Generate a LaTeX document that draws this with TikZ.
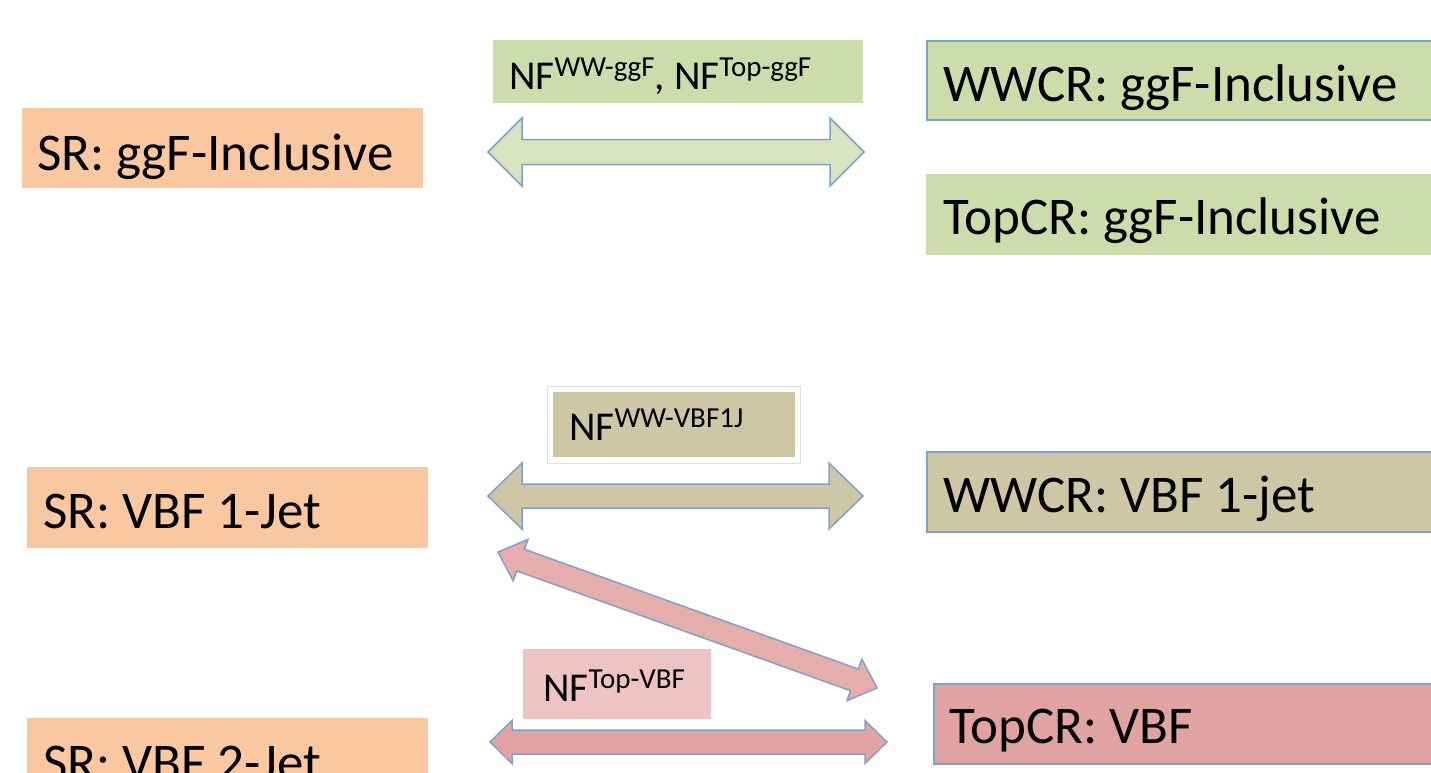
\documentclass[tikz,border=0pt]{standalone}
\usepackage{fontspec}
\setmainfont{Carlito}
\usetikzlibrary{calc}
\definecolor{orng}{HTML}{F9C8A0}
\definecolor{grn}{HTML}{CDDCAB}
\definecolor{grnA}{HTML}{D8E4BD}
\definecolor{tanB}{HTML}{CEC7A6}
\definecolor{pinkT}{HTML}{E0A3A2}
\definecolor{pinkL}{HTML}{EDC3C3}
\definecolor{pinkA}{HTML}{E6ADAB}
\definecolor{bord}{HTML}{7EA1CD}
\newcommand{\nfsup}[1]{\raisebox{12.5pt}{\fontsize{29}{31}\selectfont #1}}
% #1 style, #2 start, #3 end, #4 shaft half width, #5 head half width, #6 head length
\newcommand{\dblarrow}[6]{%
  \path coordinate (da1) at ($(#2)!#6!(#3)$) coordinate (da2) at ($(#3)!#6!(#2)$);
  \draw[#1] (#2) -- ($(da1)!#5!90:(#3)$) -- ($(da1)!#4!90:(#3)$) -- ($(da2)!#4!-90:(#2)$)
    -- ($(da2)!#5!-90:(#2)$) -- (#3) -- ($(da2)!#5!90:(#2)$) -- ($(da2)!#4!90:(#2)$)
    -- ($(da1)!#4!-90:(#3)$) -- ($(da1)!#5!-90:(#3)$) -- cycle;
}
\begin{document}
\begin{tikzpicture}[x=1pt,y=-1pt,
  box/.style={rectangle, anchor=north west, inner sep=0pt},
  crbox/.style={box, draw=bord, line width=1.5pt},
  bigtxt/.style={anchor=base west, inner sep=0pt, font=\fontsize{53}{58}\selectfont},
  nftxt/.style={anchor=base west, inner sep=0pt, font=\fontsize{41}{46}\selectfont},
  barrow/.style={draw=bord, line width=1.5pt, line join=miter},
]
\path[use as bounding box, fill=white] (0,0) rectangle (1431,772);
\clip (0,0) rectangle (1431,772);

% ---- top row: ggF inclusive
\node[box, fill=orng, minimum width=401pt, minimum height=80pt] (srggf) at (22,108) {};
\node[bigtxt] (srggfT) at (37,170) {SR: ggF-Inclusive};

\node[box, fill=grn, minimum width=370pt, minimum height=63pt] (nfggf) at (493,40) {};
\node[nftxt] (nfggfT) at (509,89) {NF\nfsup{WW-ggF}, NF\nfsup{Top-ggF}};

\node[crbox, fill=grn, minimum width=540pt, minimum height=79pt] (wwggf) at (926,40) {};
\node[bigtxt] (wwggfT) at (943,101) {WWCR: ggF-Inclusive};

\node[box, fill=grn, minimum width=540pt, minimum height=81pt] (topggf) at (926,174) {};
\node[bigtxt] (topggfT) at (943,234) {TopCR: ggF-Inclusive};

\coordinate (ga1) at (488,152);
\coordinate (ga2) at (864,152);
\dblarrow{barrow, fill=grnA}{ga1}{ga2}{12.5pt}{34pt}{34pt}

% ---- VBF 1-jet
\node[box, fill=orng, minimum width=401pt, minimum height=81pt] (srvbf1) at (27,467) {};
\node[bigtxt] (srvbf1T) at (43,528) {SR: VBF 1-Jet};

\node[box, fill=white, draw=black!12, line width=0.8pt, minimum width=253pt, minimum height=77pt] (nfvbfF) at (547,386) {};
\node[box, fill=tanB, minimum width=242pt, minimum height=65pt] (nfvbf) at (553,392) {};
\node[nftxt] (nfvbfT) at (569,440) {NF\nfsup{WW-VBF1J}};

\node[crbox, fill=tanB, minimum width=540pt, minimum height=80pt] (wwvbf) at (926,451) {};
\node[bigtxt] (wwvbfT) at (943,512) {WWCR: VBF 1-jet};

\coordinate (ta1) at (488,496);
\coordinate (ta2) at (863,496);
\dblarrow{barrow, fill=tanB}{ta1}{ta2}{12pt}{33pt}{34pt}

% ---- Top VBF
\coordinate (da) at (498,552);
\coordinate (db) at (877,688);
\dblarrow{barrow, fill=pinkA}{da}{db}{11.5pt}{22pt}{24pt}

\node[box, fill=pinkL, minimum width=188pt, minimum height=70pt] (nftop) at (523,649) {};
\node[nftxt] (nftopT) at (543,701) {NF\nfsup{Top-VBF}};

\node[crbox, fill=pinkT, minimum width=540pt, minimum height=80pt] (topvbf) at (933,683) {};
\node[bigtxt] (topvbfT) at (949,743) {TopCR: VBF};

\coordinate (pa1) at (490,742);
\coordinate (pa2) at (887,742);
\dblarrow{barrow, fill=pinkT!85!pinkA}{pa1}{pa2}{12pt}{21.5pt}{22pt}

% ---- VBF 2-jet
\node[box, fill=orng, minimum width=401pt, minimum height=80pt] (srvbf2) at (27,718) {};
\node[bigtxt] (srvbf2T) at (43,780) {SR: VBF 2-Jet};
\end{tikzpicture}
\end{document}
